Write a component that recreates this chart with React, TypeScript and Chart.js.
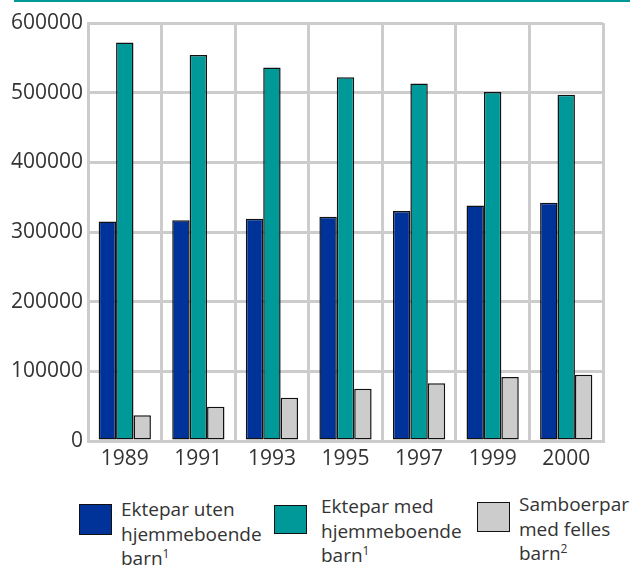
import React, { useEffect, useRef } from "react";
import { Chart, registerables } from "chart.js";

Chart.register(...registerables);

const years = ["1989", "1991", "1993", "1995", "1997", "1999", "2000"];
const ektUtenBarn = [315000, 317000, 319000, 322000, 330000, 338000, 342000];
const ektMedBarn = [572000, 554000, 536000, 522000, 513000, 501000, 497000];
const samboerBarn = [37000, 49000, 62000, 75000, 83000, 92000, 95000];
const seriesNames = ["Ektepar uten hjemmeboende barn", "Ektepar med hjemmeboende barn", "Samboerpar med felles barn"];
const colors = ["#003399", "#009999", "#cccccc"];

const FONT = "'Open Sans', 'Noto Sans', sans-serif";

export default function App() {
  const ref = useRef<HTMLCanvasElement>(null);

  useEffect(() => {
    document.body.style.margin = "0";
    const ctx = ref.current!;
    const data = [ektUtenBarn, ektMedBarn, samboerBarn];
    const chart = new Chart(ctx, {
      type: "bar",
      data: {
        labels: years,
        datasets: data.map((d, i) => ({
          label: seriesNames[i],
          data: d,
          backgroundColor: colors[i],
          borderColor: "#111111",
          borderWidth: 1.5,
          borderSkipped: false,
          categoryPercentage: 0.71,
          barPercentage: 1.0,
        })),
      },
      options: {
        animation: false,
        responsive: false,
        maintainAspectRatio: false,
        layout: { padding: { top: 23, right: 27, left: 0, bottom: 0 } },
        plugins: { legend: { display: false }, tooltip: { enabled: false } },
        scales: {
          x: {
            grid: { color: "#cccccc", lineWidth: 3, drawTicks: false, offset: true },
            border: { color: "#cccccc", width: 3 },
            ticks: { color: "#333333", font: { family: FONT, size: 21 }, padding: 5 },
            afterFit: (s: any) => { s.height = 39; },
          },
          y: {
            min: 0,
            max: 600000,
            grid: { color: "#cccccc", lineWidth: 3, drawTicks: false },
            border: { color: "#cccccc", width: 3 },
            ticks: {
              stepSize: 100000,
              color: "#333333",
              font: { family: FONT, size: 21 },
              padding: 5,
              callback: (v: any) => String(v),
            },
            afterFit: (s: any) => { s.width = 88; },
          },
        },
      },
    });
    return () => chart.destroy();
  }, []);

  const textStyle: React.CSSProperties = {
    position: "absolute",
    fontFamily: FONT,
    fontSize: 19,
    lineHeight: "24.5px",
    color: "#333333",
    whiteSpace: "nowrap",
  };
  const sup: React.CSSProperties = { fontSize: 12, verticalAlign: "7px", lineHeight: 0 };
  const box = (left: number, top: number, w: number, h: number, c: string): React.CSSProperties => ({
    position: "absolute",
    left,
    top,
    width: w,
    height: h,
    background: c,
    border: "1.5px solid #111",
    boxSizing: "border-box",
  });

  return (
    <div style={{ position: "relative", width: 630, height: 566, background: "#fff", overflow: "hidden" }}>
      <div style={{ position: "absolute", left: 14, top: 0, width: 616, height: 2, background: "#009999" }} />
      <canvas ref={ref} width={630} height={480} style={{ position: "absolute", left: 0, top: 0 }} />
      <div style={box(79, 504, 33, 31, colors[0])} />
      <div style={{ ...textStyle, left: 121, top: 497 }}>
        Ektepar uten<br />hjemmeboende<br />barn<span style={sup}>1</span>
      </div>
      <div style={box(274, 505, 33, 29, colors[1])} />
      <div style={{ ...textStyle, left: 321, top: 494 }}>
        Ektepar med<br />hjemmeboende<br />barn<span style={sup}>1</span>
      </div>
      <div style={box(477, 502, 33, 30, colors[2])} />
      <div style={{ ...textStyle, left: 519, top: 492 }}>
        Samboerpar<br />med felles<br />barn<span style={sup}>2</span>
      </div>
    </div>
  );
}
